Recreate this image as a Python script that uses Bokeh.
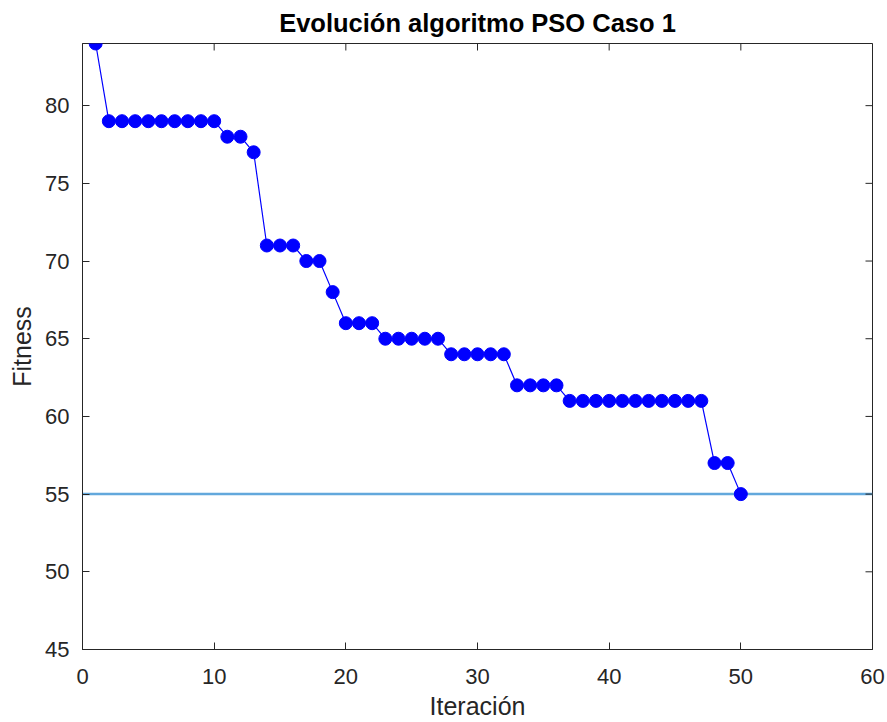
import math
from bokeh.plotting import figure
from bokeh.models import Range1d, LinearAxis, Span, FixedTicker
from bokeh.embed import file_html
from bokeh.resources import INLINE

# ---- data ----
iteracion = [1, 2, 3, 4, 5, 6, 7, 8, 9, 10,
             11, 12, 13, 14, 15, 16, 17, 18, 19, 20,
             21, 22, 23, 24, 25, 26, 27, 28, 29, 30,
             31, 32, 33, 34, 35, 36, 37, 38, 39, 40,
             41, 42, 43, 44, 45, 46, 47, 48, 49, 50]
fitness = [84, 79, 79, 79, 79, 79, 79, 79, 79, 79,
           78, 78, 77, 71, 71, 71, 70, 70, 68, 66,
           66, 66, 65, 65, 65, 65, 65, 64, 64, 64,
           64, 64, 62, 62, 62, 62, 61, 61, 61, 61,
           61, 61, 61, 61, 61, 61, 61, 57, 57, 55]
objetivo = 55
x_ticks = [0, 10, 20, 30, 40, 50, 60]
y_ticks = [45, 50, 55, 60, 65, 70, 75, 80]
x_lim = (0, 60)
y_lim = (45, 84)

FONT = "Liberation Sans"
AX = "#262626"

p = figure(width=887, height=722, output_backend="svg", toolbar_location=None,
           x_range=Range1d(*x_lim), y_range=Range1d(*y_lim),
           x_axis_location=None, y_axis_location=None,
           min_border_left=82, min_border_right=15, min_border_top=43,
           min_border_bottom=73, background_fill_color="white",
           border_fill_color="white", outline_line_color=AX,
           outline_line_width=1)
p.grid.visible = False

p.title.text = "Evolución algoritmo PSO Caso 1"
p.title.align = "center"
p.title.text_font = FONT
p.title.text_font_size = "25.5px"
p.title.text_font_style = "bold"
p.title.text_color = "#000000"
p.title.standoff = 13


def style_axis(ax, ticks):
    ax.ticker = FixedTicker(ticks=ticks)
    ax.major_tick_in = 7
    ax.major_tick_out = 0
    ax.minor_tick_line_color = None
    ax.axis_line_color = AX
    ax.axis_line_width = 1
    ax.major_tick_line_color = AX
    ax.major_tick_line_width = 1
    ax.major_label_text_font = FONT
    ax.major_label_text_color = AX
    ax.major_label_text_font_size = "22px"
    ax.axis_label_text_font = FONT
    ax.axis_label_text_font_size = "25px"
    ax.axis_label_text_font_style = "normal"
    ax.axis_label_text_color = AX


xb = LinearAxis(axis_label="Iteración")
style_axis(xb, x_ticks)
xb.major_label_standoff = 19
xb.axis_label_standoff = 5
p.add_layout(xb, "below")

yl = LinearAxis(axis_label="Fitness")
style_axis(yl, y_ticks)
yl.major_label_standoff = 13
yl.axis_label_standoff = 6
p.add_layout(yl, "left")

# inward tick marks on the top and right edges of the box (half of each
# dash is clipped away by the frame)
p.scatter(x_ticks, [y_lim[1]] * len(x_ticks), marker="dash", size=14,
          angle=math.pi / 2, line_color=AX, line_width=1)
p.scatter([x_lim[1]] * len(y_ticks), y_ticks, marker="dash", size=14,
          line_color=AX, line_width=1)

span = Span(location=objetivo, dimension="width", line_color="#62A8DC",
            line_width=2.5, level="underlay")
p.add_layout(span)

p.line(iteracion, fitness, line_color="#0000FF", line_width=1.2)
p.scatter(iteracion, fitness, size=13, fill_color="#0000FF",
          line_color="#0000FF")

open("out.html", "w").write(file_html(p, INLINE))
